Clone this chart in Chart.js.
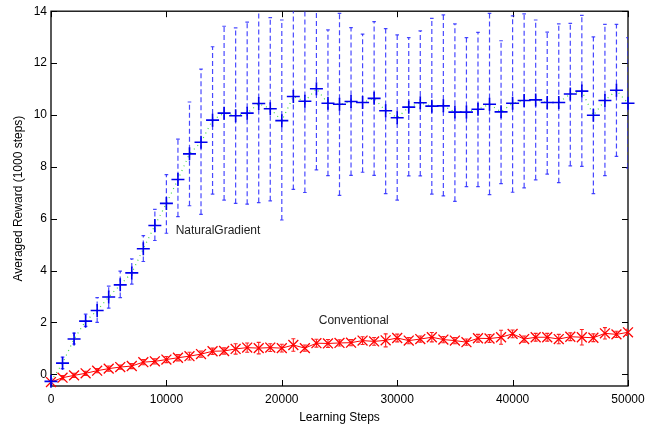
<!DOCTYPE html>
<html>
<head>
<meta charset="utf-8">
<script src="https://cdn.jsdelivr.net/npm/chart.js@4.4.1/dist/chart.umd.min.js"></script>
<style>
  html, body { margin: 0; padding: 0; background: #fff; }
</style>
</head>
<body>
<canvas id="myChart" width="655" height="429"></canvas>
<script>
// learning steps (x)
var steps = [0, 1000, 2000, 3000, 4000, 5000, 6000, 7000, 8000, 9000,
  10000, 11000, 12000, 13000, 14000, 15000, 16000, 17000, 18000, 19000,
  20000, 21000, 22000, 23000, 24000, 25000, 26000, 27000, 28000, 29000,
  30000, 31000, 32000, 33000, 34000, 35000, 36000, 37000, 38000, 39000,
  40000, 41000, 42000, 43000, 44000, 45000, 46000, 47000, 48000, 49000, 50000];

// NaturalGradient: mean and error bar ends
var ngMean = [-0.27, 0.43, 1.36, 2.05, 2.46, 2.98, 3.45, 3.91, 4.84, 5.74,
  6.59, 7.51, 8.50, 8.95, 9.80, 10.07, 9.97, 10.07, 10.44, 10.24,
  9.78, 10.71, 10.53, 11.01, 10.45, 10.41, 10.52, 10.48, 10.64, 10.16,
  9.89, 10.30, 10.47, 10.34, 10.35, 10.11, 10.11, 10.22, 10.41, 10.12,
  10.45, 10.56, 10.58, 10.48, 10.48, 10.81, 10.92, 9.99, 10.56, 10.95, 10.45];
var ngHigh = [-0.18, 0.66, 1.59, 2.32, 2.96, 3.40, 3.98, 4.45, 5.35, 6.36,
  7.70, 9.07, 10.50, 11.77, 12.63, 13.42, 13.36, 13.58, 14.40, 13.75,
  13.66, 14.50, 14.60, 14.30, 13.28, 13.92, 13.37, 13.12, 13.60, 13.33,
  13.09, 12.98, 13.24, 13.72, 13.86, 13.51, 12.98, 13.18, 13.92, 12.86,
  13.82, 13.90, 13.66, 13.19, 13.51, 13.53, 13.84, 13.01, 13.49, 13.49, 12.98];
var ngLow = [-0.36, 0.22, 1.17, 1.85, 2.00, 2.55, 2.96, 3.48, 4.35, 5.16,
  5.44, 6.08, 6.50, 6.17, 6.95, 6.72, 6.59, 6.56, 6.62, 6.69,
  5.95, 7.13, 7.01, 7.88, 7.66, 6.90, 7.67, 7.79, 7.67, 6.97,
  6.72, 7.65, 7.65, 6.95, 6.88, 6.67, 7.24, 7.24, 6.93, 7.35,
  7.02, 7.19, 7.50, 7.72, 7.39, 8.04, 8.02, 6.97, 7.66, 8.40, 7.95];

// Conventional: mean and half width of error bar
var cvMean = [-0.30, -0.13, -0.04, 0.04, 0.14, 0.22, 0.28, 0.32, 0.47, 0.50,
  0.57, 0.64, 0.70, 0.78, 0.89, 0.90, 0.98, 1.03, 1.01, 1.03,
  1.01, 1.13, 1.01, 1.20, 1.19, 1.21, 1.22, 1.30, 1.27, 1.31,
  1.40, 1.30, 1.36, 1.43, 1.34, 1.30, 1.24, 1.39, 1.38, 1.43,
  1.56, 1.36, 1.43, 1.43, 1.36, 1.45, 1.43, 1.41, 1.58, 1.54, 1.62];
var cvErr = [0.05, 0.08, 0.08, 0.08, 0.08, 0.10, 0.08, 0.10, 0.10, 0.10,
  0.12, 0.12, 0.15, 0.12, 0.12, 0.12, 0.20, 0.18, 0.22, 0.15,
  0.15, 0.24, 0.12, 0.15, 0.15, 0.12, 0.12, 0.15, 0.15, 0.25,
  0.15, 0.12, 0.12, 0.18, 0.12, 0.12, 0.12, 0.15, 0.15, 0.27,
  0.15, 0.12, 0.15, 0.15, 0.18, 0.15, 0.30, 0.15, 0.22, 0.12, 0.12];

var xTicks = [0, 10000, 20000, 30000, 40000, 50000];
var yTicks = [0, 2, 4, 6, 8, 10, 12, 14];

var seriesLabels = ['NaturalGradient', 'Conventional'];
var labelAt = [[10800, 5.52], [23200, 2.08]];

function pairs(ys) {
  return steps.map(function (s, i) { return { x: s, y: ys[i] }; });
}
function barPoints(lo, hi) {
  var pts = [];
  steps.forEach(function (s, i) {
    pts.push({ x: s, y: lo[i] }, { x: s, y: hi[i] }, { x: s, y: null });
  });
  return pts;
}

var cvLow = cvMean.map(function (m, i) { return m - cvErr[i]; });
var cvHigh = cvMean.map(function (m, i) { return m + cvErr[i]; });

var framePlugin = {
  id: 'frame',
  beforeDatasetsDraw: function (chart) {
    var ctx = chart.ctx, a = chart.chartArea;
    var xs = chart.scales.x, ys = chart.scales.y;
    ctx.save();
    ctx.strokeStyle = '#000';
    ctx.lineWidth = 1;
    ctx.beginPath();
    xTicks.forEach(function (v) {
      var px = Math.round(xs.getPixelForValue(v)) + 0.5;
      ctx.moveTo(px, a.bottom); ctx.lineTo(px, a.bottom - 6);
      ctx.moveTo(px, a.top); ctx.lineTo(px, a.top + 6);
    });
    yTicks.forEach(function (v) {
      var py = Math.round(ys.getPixelForValue(v)) + 0.5;
      ctx.moveTo(a.left, py); ctx.lineTo(a.left + 6, py);
      ctx.moveTo(a.right, py); ctx.lineTo(a.right - 6, py);
    });
    ctx.stroke();
    ctx.lineWidth = 1.3;
    ctx.strokeRect(a.left, a.top, a.right - a.left, a.bottom - a.top);
    ctx.restore();
  },
  afterDraw: function (chart) {
    var ctx = chart.ctx;
    var xs = chart.scales.x, ys = chart.scales.y;
    ctx.save();
    ctx.fillStyle = '#222';
    ctx.font = '12px "Liberation Sans", Arial, sans-serif';
    ctx.textBaseline = 'middle';
    ctx.textAlign = 'left';
    seriesLabels.forEach(function (t, i) {
      ctx.fillText(t, xs.getPixelForValue(labelAt[i][0]), ys.getPixelForValue(labelAt[i][1]));
    });
    ctx.restore();
  }
};

var ctx = document.getElementById('myChart');
new Chart(ctx, {
  type: 'line',
  data: {
    datasets: [{
      label: 'NaturalGradient',
      data: pairs(ngMean),
      showLine: false,
      pointStyle: 'cross',
      pointRadius: 6.5,
      pointBorderWidth: 1.6,
      pointBorderColor: '#0000ee',
      borderColor: '#0000ee',
      clip: false,
      order: 1
    }, {
      label: 'NaturalGradient bars',
      data: barPoints(ngLow, ngHigh),
      spanGaps: false,
      borderColor: 'rgba(40,40,255,0.85)',
      borderWidth: 1.2,
      borderDash: [5, 3],
      pointStyle: 'line',
      pointRadius: 1.8,
      pointBorderWidth: 1.2,
      pointBorderColor: 'rgba(40,40,255,0.85)',
      clip: 0,
      order: 2
    }, {
      label: 'NaturalGradient line',
      data: pairs(ngMean),
      borderColor: '#44dd44',
      borderWidth: 1.2,
      borderDash: [1, 4],
      pointRadius: 0,
      order: 3
    }, {
      label: 'Conventional',
      data: pairs(cvMean),
      borderColor: '#ff0000',
      borderWidth: 1,
      pointStyle: 'crossRot',
      pointRadius: 7,
      pointBorderWidth: 1.3,
      pointBorderColor: '#ff0000',
      clip: false,
      order: 4
    }, {
      label: 'Conventional bars',
      data: barPoints(cvLow, cvHigh),
      spanGaps: false,
      borderColor: '#ff2020',
      borderWidth: 1.1,
      pointStyle: 'line',
      pointRadius: 2,
      pointBorderWidth: 1.1,
      pointBorderColor: '#ff2020',
      clip: 0,
      order: 5
    }]
  },
  options: {
    responsive: false,
    animation: false,
    events: [],
    layout: { padding: { top: 8, right: 27, left: 0, bottom: 0 } },
    elements: { line: { tension: 0 } },
    plugins: { legend: { display: false }, tooltip: { enabled: false } },
    scales: {
      x: {
        type: 'linear',
        min: 0,
        max: 50000,
        grid: { display: false, drawTicks: false },
        border: { display: false },
        afterBuildTicks: function (scale) {
          scale.ticks = xTicks.map(function (v) { return { value: v }; });
        },
        afterFit: function (scale) { scale.height = 43; },
        ticks: {
          color: '#000',
          padding: 6,
          maxRotation: 0,
          font: { family: '"Liberation Sans", Arial, sans-serif', size: 12 },
          callback: function (v) { return String(v); }
        },
        title: {
          display: true,
          text: 'Learning Steps',
          color: '#000',
          padding: { top: 0, bottom: 4 },
          font: { family: '"Liberation Sans", Arial, sans-serif', size: 12 }
        }
      },
      y: {
        type: 'linear',
        min: -0.45,
        max: 14,
        grid: { display: false, drawTicks: false },
        border: { display: false },
        afterBuildTicks: function (scale) {
          scale.ticks = yTicks.map(function (v) { return { value: v }; });
        },
        afterFit: function (scale) { scale.width = 51; },
        ticks: {
          color: '#000',
          padding: 4,
          font: { family: '"Liberation Sans", Arial, sans-serif', size: 12 }
        },
        title: {
          display: true,
          text: 'Averaged Reward (1000 steps)',
          color: '#000',
          padding: { top: 11, bottom: 0 },
          font: { family: '"Liberation Sans", Arial, sans-serif', size: 12 }
        }
      }
    }
  },
  plugins: [framePlugin]
});
</script>
</body>
</html>
